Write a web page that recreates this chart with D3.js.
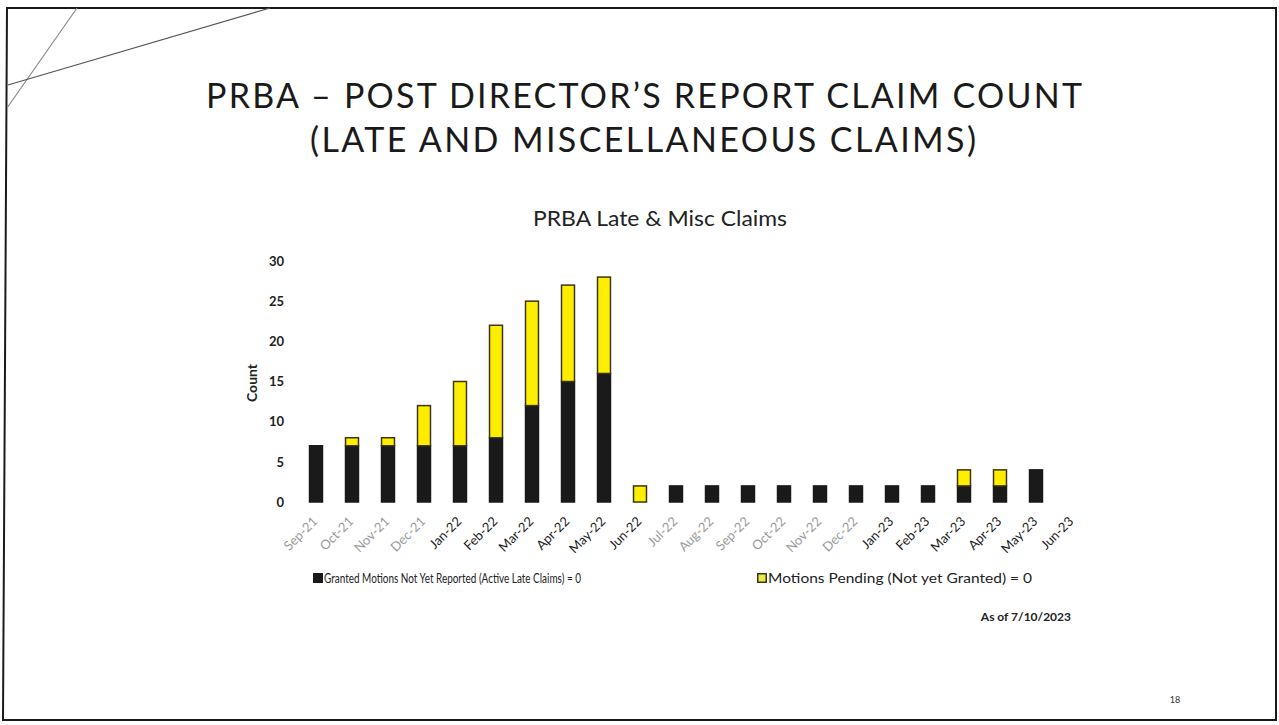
<!DOCTYPE html>
<meta charset="utf-8" />
<style>
  body { margin: 0; background: #fff; }
  text { font-family: Lato, "Noto Sans", sans-serif; }
</style>
<body>
<script src="https://cdn.jsdelivr.net/npm/d3@7"></script>
<script>
  // months along the x axis
  var months = ["Sep-21","Oct-21","Nov-21","Dec-21","Jan-22","Feb-22","Mar-22","Apr-22","May-22","Jun-22",
    "Jul-22","Aug-22","Sep-22","Oct-22","Nov-22","Dec-22","Jan-23","Feb-23","Mar-23","Apr-23","May-23","Jun-23"];
  // granted motions not yet reported (black)
  var granted = [7,7,7,7,7,8,12,15,16,0,2,2,2,2,2,2,2,2,2,2,4,0];
  // motions pending (yellow)
  var pending = [0,1,1,5,8,14,13,12,12,2,0,0,0,0,0,0,0,0,2,2,0,0];
  // labels that came out faded in the scan
  var fadedLabels = ["Sep-21","Oct-21","Nov-21","Dec-21","Jul-22","Aug-22","Sep-22","Oct-22","Nov-22","Dec-22"];
  var yTicks = [0,5,10,15,20,25,30];

  var W = 1279, H = 725;
  var svg = d3.select("body").append("svg").attr("width", W).attr("height", H);

  // slide frame and decorative lines
  svg.append("path").attr("d", "M1276,8 L7,8 L3,720 L1276,720 Z")
    .attr("fill", "none").attr("stroke", "#1a1a1a").attr("stroke-width", 2);
  svg.append("line").attr("x1", 77).attr("y1", 8).attr("x2", 7).attr("y2", 108)
    .attr("stroke", "#8a8a8a").attr("stroke-width", 1.2);
  svg.append("line").attr("x1", 270).attr("y1", 8).attr("x2", 8).attr("y2", 85)
    .attr("stroke", "#555").attr("stroke-width", 1.2);

  // slide title
  var title = svg.append("g").attr("fill", "#1a1a1a").style("font-size", "34px").attr("text-anchor", "middle");
  title.append("text").attr("x", 644).attr("y", 108).attr("textLength", 876).attr("lengthAdjust", "spacing")
    .text("PRBA – POST DIRECTOR’S REPORT CLAIM COUNT");
  title.append("text").attr("x", 643).attr("y", 152).attr("textLength", 666).attr("lengthAdjust", "spacing")
    .text("(LATE AND MISCELLANEOUS CLAIMS)");

  // chart scales
  var x = d3.scaleBand().domain(months).range([298, 1090]).paddingInner(0.64).paddingOuter(0.32);
  var y = d3.scaleLinear().domain([0, 30]).range([502, 261]);

  svg.append("text").attr("x", 660).attr("y", 226).attr("text-anchor", "middle")
    .attr("textLength", 254).attr("lengthAdjust", "spacingAndGlyphs")
    .style("font-size", "21px").attr("fill", "#222").text("PRBA Late & Misc Claims");

  // y axis (labels only)
  var yAxis = svg.append("g").attr("transform", "translate(290,0)")
    .call(d3.axisLeft(y).tickValues(yTicks).tickSize(0).tickPadding(6));
  yAxis.select(".domain").remove();
  yAxis.selectAll("text").style("font-size", "13px").style("font-weight", "bold").attr("fill", "#222")
    .style("font-family", "Lato, 'Noto Sans', sans-serif");

  svg.append("text").attr("transform", "translate(257,383) rotate(-90)").attr("text-anchor", "middle")
    .style("font-size", "14px").style("font-weight", "bold").attr("fill", "#222").text("Count");

  // stacked bars
  var rows = months.map(function (m, i) { return { month: m, granted: granted[i], pending: pending[i] }; });
  var stack = d3.stack().keys(["granted", "pending"])(rows);
  var fills = { granted: "#1a1a1a", pending: "#ffee00" };

  stack.forEach(function (layer) {
    svg.append("g").selectAll("rect").data(layer.filter(function (d) { return d[1] > d[0]; }))
      .enter().append("rect")
      .attr("x", function (d) { return x(d.data.month); })
      .attr("width", x.bandwidth())
      .attr("y", function (d) { return y(d[1]); })
      .attr("height", function (d) { return y(d[0]) - y(d[1]); })
      .attr("fill", fills[layer.key])
      .attr("stroke", layer.key === "pending" ? "#3b3510" : "#1a1a1a")
      .attr("stroke-width", 1.5);
  });

  // x axis labels, rotated
  var xAxis = svg.append("g").attr("transform", "translate(-1,519)")
    .call(d3.axisBottom(x).tickSize(0).tickPadding(0));
  xAxis.select(".domain").remove();
  xAxis.selectAll("text")
    .style("font-size", "13px").style("font-family", "Lato, 'Noto Sans', sans-serif")
    .attr("fill", function (d) { return fadedLabels.indexOf(d) >= 0 ? "#9a9a9a" : "#222"; })
    .attr("text-anchor", "end").attr("y", 0).attr("dy", "0.35em")
    .attr("transform", "rotate(-45)");

  // legend
  var legendItems = [
    { label: "Granted Motions Not Yet Reported (Active Late Claims) = 0", fill: "#1a1a1a", stroke: "#1a1a1a", x: 313, len: 257 },
    { label: "Motions Pending  (Not yet Granted) = 0", fill: "#e8e84a", stroke: "#3b3510", x: 757, len: 264 }
  ];
  var lg = svg.append("g").selectAll("g").data(legendItems).enter().append("g")
    .attr("transform", function (d) { return "translate(" + d.x + ",573)"; });
  lg.append("rect").attr("x", 0.75).attr("y", 0.75).attr("width", 8.5).attr("height", 8.5)
    .attr("fill", function (d) { return d.fill; }).attr("stroke", function (d) { return d.stroke; })
    .attr("stroke-width", 1.5);
  lg.append("text").attr("x", 11).attr("y", 10).style("font-size", "13.5px").attr("fill", "#222")
    .attr("textLength", function (d) { return d.len; }).attr("lengthAdjust", "spacingAndGlyphs")
    .text(function (d) { return d.label; });

  svg.append("text").attr("x", 1071).attr("y", 621).attr("text-anchor", "end")
    .style("font-size", "12px").style("font-weight", "bold").attr("fill", "#222").text("As of 7/10/2023");

  svg.append("text").attr("x", 1175).attr("y", 703).attr("text-anchor", "middle")
    .style("font-size", "9px").attr("fill", "#333").text("18");
</script>
</body>
